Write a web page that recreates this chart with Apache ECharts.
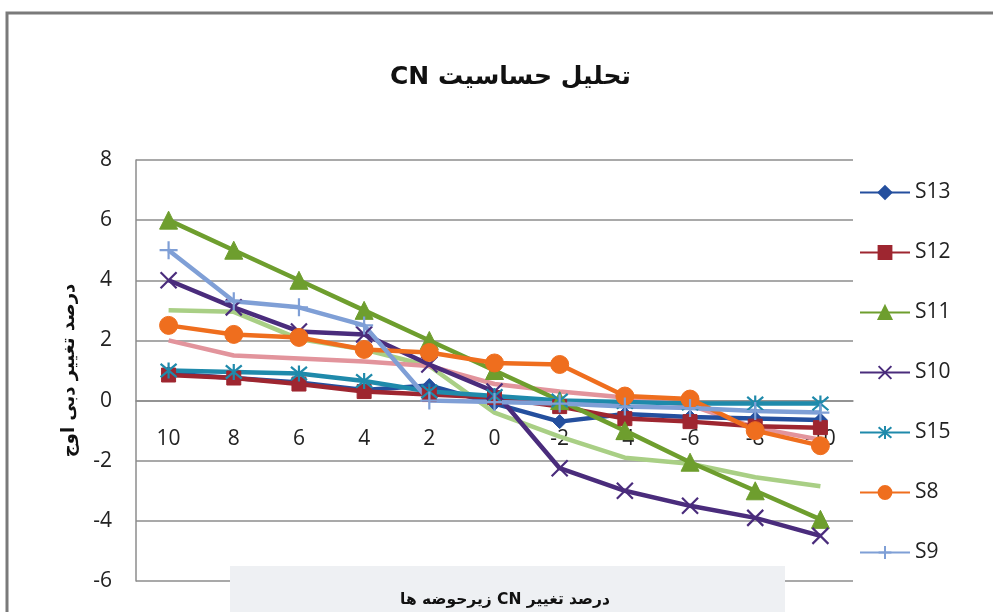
<!DOCTYPE html>
<html>
<head>
<meta charset="utf-8">
<script src="https://cdn.jsdelivr.net/npm/echarts@6/dist/echarts.min.js"></script>
<style>
  html, body { margin: 0; padding: 0; background: #ffffff; }
  #chart { width: 993px; height: 612px; }
</style>
</head>
<body>
<div id="chart"></div>
<script>
// Percent change in subbasin CN (x) vs percent change in peak discharge (y)
const categories = ['10', '8', '6', '4', '2', '0', '-2', '-4', '-6', '-8', '-10'];

const s13 = [0.9, 0.75, 0.6, 0.35, 0.5, -0.1, -0.7, -0.45, -0.55, -0.6, -0.65];
const s12 = [0.85, 0.75, 0.55, 0.3, 0.2, 0.1, -0.2, -0.6, -0.7, -0.85, -0.9];
const s11 = [6, 5, 4, 3, 2, 1, 0, -1, -2.05, -3, -3.95];
const s10 = [4.0, 3.1, 2.3, 2.2, 1.2, 0.3, -2.25, -3.0, -3.5, -3.9, -4.5];
const s15 = [1.0, 0.95, 0.9, 0.65, 0.3, 0.15, 0.0, -0.05, -0.1, -0.1, -0.1];
const s8  = [2.5, 2.2, 2.1, 1.7, 1.6, 1.25, 1.2, 0.15, 0.05, -1.0, -1.5];
const s9  = [5.0, 3.3, 3.1, 2.5, 0.0, -0.05, -0.1, -0.2, -0.25, -0.35, -0.4];
const s14 = [3.0, 2.95, 2.05, 1.7, 1.15, -0.4, -1.2, -1.9, -2.1, -2.55, -2.85];
const s16 = [2.0, 1.5, 1.4, 1.3, 1.15, 0.55, 0.3, 0.1, -0.15, -0.9, -1.3];

const yTicks = { min: -6, max: 8, step: 2 };

const legendNames = ['S13', 'S12', 'S11', 'S10', 'S15', 'S8', 'S9'];

// Persian strings are wrapped in a right-to-left embedding so mixed runs order correctly
const rtl = s => '\u202B' + s + '\u202C';
const titleText = rtl('تحلیل حساسیت CN');
const xName = rtl('درصد تغییر CN زیرحوضه ها');
const yName = rtl('درصد تغییر دبی اوج');

const SYM_X = 'path://M0,0L10,10M10,0L0,10';
const SYM_STAR = 'path://M0,0L10,10M10,0L0,10M5,-1L5,11';
const SYM_PLUS = 'path://M5,0L5,10M0,5L10,5';

function lineSeries(name, data, color, symbol, size, stroked) {
  return {
    name: name,
    type: 'line',
    data: data,
    symbol: symbol,
    symbolSize: size,
    showSymbol: symbol !== 'none',
    z: 2,
    lineStyle: { color: color, width: 4.5 },
    itemStyle: {
      color: stroked ? 'rgba(0,0,0,0)' : color,
      borderColor: color,
      borderWidth: stroked ? 2.2 : 1
    },
    emphasis: { disabled: true },
    animation: false
  };
}

const labelFont = "'Liberation Sans Narrow', 'Open Sans', sans-serif";
const arabicFont = "'DejaVu Sans', sans-serif";

const chart = echarts.init(document.getElementById('chart'), null, { renderer: 'canvas' });

chart.setOption({
  backgroundColor: '#ffffff',
  animation: false,
  title: {
    text: titleText,
    left: 385,
    top: 60,
    textStyle: { fontFamily: arabicFont, fontWeight: 'bold', fontSize: 25, color: '#111111' }
  },
  graphic: [
    {
      type: 'rect',
      z: 0,
      silent: true,
      shape: { x: 7, y: 13, width: 1000, height: 700 },
      style: { fill: 'none', stroke: '#7a7a7a', lineWidth: 3 }
    },
    {
      type: 'rect',
      z: 1,
      silent: true,
      shape: { x: 230, y: 566, width: 555, height: 50 },
      style: { fill: '#eef0f3' }
    }
  ],
  legend: {
    data: legendNames,
    orient: 'vertical',
    left: 854,
    top: 177,
    itemWidth: 50,
    itemHeight: 16,
    itemGap: 39,
    textStyle: { fontFamily: labelFont, fontSize: 21, color: '#222222' }
  },
  grid: { left: 136, right: 140, top: 160, bottom: 31, containLabel: false, outerBoundsMode: 'none' },
  xAxis: {
    type: 'category',
    data: categories,
    boundaryGap: true,
    z: 1,
    axisLine: { show: true, onZero: false, lineStyle: { color: '#8c8c8c', width: 1.5 } },
    axisTick: { show: false },
    axisLabel: { fontFamily: labelFont, fontSize: 21, color: '#222222', margin: 28 },
    splitLine: { show: false },
    name: xName,
    nameLocation: 'middle',
    nameGap: 191,
    nameTextStyle: {
      fontFamily: arabicFont, fontWeight: 'bold', fontSize: 15.5, color: '#111111',
      padding: [0, 0, 0, 21]
    }
  },
  yAxis: {
    type: 'value',
    min: yTicks.min,
    max: yTicks.max,
    interval: yTicks.step,
    z: 0,
    axisLine: { show: true, onZero: false, lineStyle: { color: '#8c8c8c', width: 1.5 } },
    axisTick: { show: false },
    axisLabel: { fontFamily: labelFont, fontSize: 21, color: '#222222', margin: 24 },
    splitLine: { show: true, lineStyle: { color: '#8c8c8c', width: 1.5 } },
    name: yName,
    nameLocation: 'middle',
    nameGap: 58,
    nameTextStyle: { fontFamily: arabicFont, fontWeight: 'bold', fontSize: 18, color: '#111111' }
  },
  series: [
    lineSeries('S14', s14, '#a9cf85', 'none', 0, false),
    lineSeries('S16', s16, '#e2949c', 'none', 0, false),
    lineSeries('S13', s13, '#244f9e', 'diamond', 14, false),
    lineSeries('S12', s12, '#9e2630', 'rect', 14, false),
    lineSeries('S11', s11, '#6e9e2e', 'triangle', 18, false),
    lineSeries('S10', s10, '#4a2c7c', SYM_X, 16, true),
    lineSeries('S15', s15, '#1f8aab', SYM_STAR, 16, true),
    lineSeries('S8', s8, '#ef6e1e', 'circle', 18, false),
    lineSeries('S9', s9, '#7f9fd6', SYM_PLUS, 18, true)
  ]
});

// Place the category axis on the y = 0 line, measured through the value axis scale
const zeroY = chart.convertToPixel({ yAxisIndex: 0 }, 0);
const bottomY = chart.convertToPixel({ yAxisIndex: 0 }, yTicks.min);
chart.setOption({ xAxis: { offset: zeroY - bottomY } });
</script>
</body>
</html>
